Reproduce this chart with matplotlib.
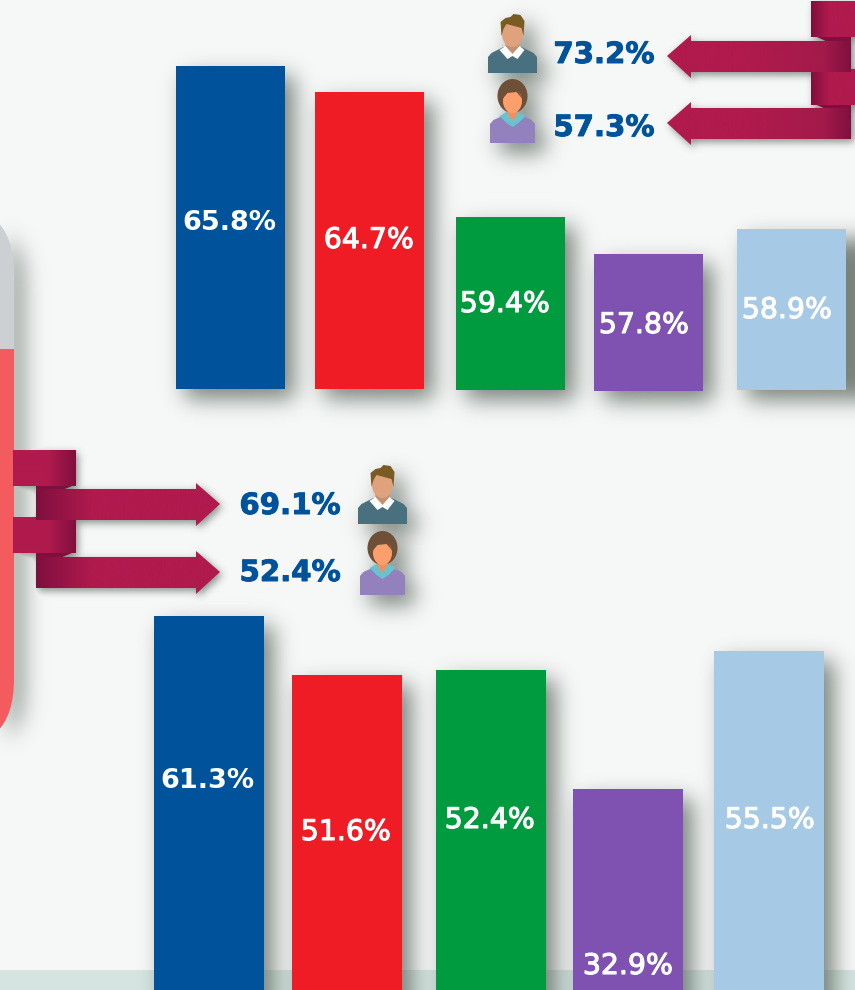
import numpy as np
import matplotlib
matplotlib.use("Agg")
import matplotlib.pyplot as plt
import matplotlib.patheffects as pe
from matplotlib.colors import LinearSegmentedColormap
from matplotlib.patches import Ellipse, FancyBboxPatch, Polygon, Rectangle

# valores
top_values = [65.8, 64.7, 59.4, 57.8, 58.9]
bottom_values = [61.3, 51.6, 52.4, 32.9, 55.5]
top_men = 73.2
top_women = 57.3
bottom_men = 69.1
bottom_women = 52.4
bar_colors = ["#00539b", "#ef1c25", "#009b3e", "#7f51b0", "#a6c9e6"]

# posicion de barras y etiquetas (pixeles de la imagen)
top_centers = [230.5, 369.5, 510.5, 648.5, 791.5]
top_widths = [109, 109, 109, 109, 109]
top_floors = [389, 389, 390, 391, 390]
top_labels = [(229, 223), (369, 240), (505, 304), (644, 325), (787, 310)]
bottom_centers = [209, 347, 491, 628, 769]
bottom_labels = [(207, 781), (346, 832), (490, 820), (628, 966), (770, 820)]
bar_width_bottom = 110

W, H = 855, 990
BG = "#f6f8f7"
BAND = "#d5e4e0"
DARK = "#7f0f3e"
WINE = "#b01a4d"
BLUE = "#00539b"


def top_scale(px):
    return 52.1 + (389 - px) / 23.6


def bottom_scale(px):
    return 61.3 + (616 - px) / 6.09


def new_axes(fig, zorder):
    ax = fig.add_axes([0, 0, 1, 1], zorder=zorder)
    ax.patch.set_alpha(0)
    ax.set_axis_off()
    return ax


def gradient(ax, verts, stops, x0, x1, flat, zorder):
    # poligono con degradado horizontal, recortado con imshow
    poly = Polygon(verts, closed=True, facecolor="black" if flat else "none",
                   edgecolor="none", zorder=zorder)
    ax.add_patch(poly)
    if flat:
        return
    cmap = LinearSegmentedColormap.from_list("g", stops)
    im = ax.imshow(np.linspace(0, 1, 256).reshape(1, -1), cmap=cmap, aspect="auto",
                   extent=(x0, x1, H, 0), zorder=zorder)
    im.set_clip_path(poly)


def left_arrow(ax, cy, tab_top, flat):
    gradient(ax, [(811, tab_top), (856, tab_top), (856, tab_top + 36), (811, tab_top + 36)],
             [(0, DARK), (0.4, WINE), (1, WINE)], 811, 856, flat, 3)
    ax.add_patch(Polygon([(817, tab_top + 36), (851, tab_top + 36), (851, tab_top + 42), (830, tab_top + 42)],
                         facecolor="black" if flat else DARK, edgecolor="none", zorder=3))
    verts = [(667, cy), (691, cy - 21), (691, cy - 15), (851, cy - 15),
             (851, cy + 16), (691, cy + 16), (691, cy + 22)]
    gradient(ax, verts, [(0, WINE), (0.45, WINE), (0.85, "#a31a4a"), (1, DARK)], 667, 851, flat, 4)


def right_arrow(ax, cy, tab_top, flat):
    gradient(ax, [(13, tab_top), (76, tab_top), (76, tab_top + 36), (13, tab_top + 36)],
             [(0, WINE), (0.55, WINE), (1, DARK)], 13, 76, flat, 3)
    ax.add_patch(Polygon([(36, tab_top + 36), (72, tab_top + 36), (60, tab_top + 41), (36, tab_top + 41)],
                         facecolor="black" if flat else DARK, edgecolor="none", zorder=3))
    verts = [(36, cy - 15), (196, cy - 15), (196, cy - 21), (220, cy),
             (196, cy + 22), (196, cy + 16), (36, cy + 16)]
    gradient(ax, verts, [(0, DARK), (0.3, WINE), (1, WINE)], 36, 220, flat, 4)


def man(ax, cx, base, flat):
    def c(col):
        return "black" if flat else col
    def pts(lst):
        return [(cx + a, base + b) for a, b in lst]
    ax.add_patch(Polygon(pts([(-24.5, 0), (-24.5, -16), (-21, -20), (-9, -26), (9, -26),
                              (21, -20), (24.5, -16), (24.5, 0)]),
                         facecolor=c("#48707f"), edgecolor="none", zorder=5))
    ax.add_patch(Polygon(pts([(-7, -34), (7, -34), (7, -27), (0, -17), (-7, -27)]),
                         facecolor=c("#c4906f"), edgecolor="none", zorder=6))
    ax.add_patch(Polygon(pts([(-7, -27), (0, -19), (7, -27), (12, -23), (5, -14), (0, -17), (-5, -14), (-13, -23)]),
                         facecolor=c("#ffffff"), edgecolor="none", zorder=6))
    ax.add_patch(Ellipse((cx, base - 39), 21, 26, facecolor=c("#e0a27c"), edgecolor="none", zorder=7))
    ax.add_patch(Polygon(pts([(-11, -37), (-12, -51), (-7, -55), (-2, -56), (1, -59), (8, -58),
                              (12, -52), (11, -37), (9, -45), (-6, -49), (-9, -44)]),
                         facecolor=c("#7a5c22"), edgecolor="none", zorder=8))


def woman(ax, cx, base, flat):
    def c(col):
        return "black" if flat else col
    def pts(lst):
        return [(cx + a, base + b) for a, b in lst]
    ax.add_patch(Polygon(pts([(-22.5, 0), (-22.5, -19), (-19, -23), (-8, -28), (8, -28),
                              (19, -23), (22.5, -19), (22.5, 0)]),
                         facecolor=c("#9281bd"), edgecolor="none", zorder=5))
    ax.add_patch(Ellipse((cx, base - 47), 30, 34, facecolor=c("#6e5038"), edgecolor="none", zorder=6))
    ax.add_patch(Polygon(pts([(-13, -27), (-6, -31), (6, -31), (13, -27), (6, -20), (0, -16), (-6, -20)]),
                         facecolor=c("#69c3cf"), edgecolor="none", zorder=7))
    ax.add_patch(Polygon(pts([(-5, -36), (5, -36), (5, -29), (0, -22), (-5, -29)]),
                         facecolor=c("#f08f5f"), edgecolor="none", zorder=8))
    ax.add_patch(Ellipse((cx, base - 42), 19, 24, facecolor=c("#fd9f6c"), edgecolor="none", zorder=9))
    ax.add_patch(Polygon(pts([(-10, -44), (-8, -57), (4, -56), (10, -44), (4, -51), (-5, -50)]),
                         facecolor=c("#6e5038"), edgecolor="none", zorder=10))


def draw_scene(fig, flat=None, shadow=None):
    back = new_axes(fig, 0)
    back.set_xlim(0, W)
    back.set_ylim(H, 0)
    if not flat:
        back.add_patch(Rectangle((0, 0), W, H, facecolor=BG, edgecolor="none", zorder=0))
        back.add_patch(Rectangle((0, 970), W, 20, facecolor=BAND, edgecolor="none", zorder=0))
        back.imshow(shadow, extent=(0, W, H, 0), aspect="auto", zorder=1, interpolation="bilinear")
        back.set_xlim(0, W)
        back.set_ylim(H, 0)

    front = new_axes(fig, 2)
    front.set_xlim(0, W)
    front.set_ylim(H, 0)

    if flat != "arrows":
        # pastilla de la izquierda
        pill = FancyBboxPatch((-150, 203), 164, 547, boxstyle="round,pad=0,rounding_size=70",
                              facecolor="black" if flat else "none", edgecolor="none", zorder=2)
        back.add_patch(pill)
        if not flat:
            for y0, y1, col in [(200, 349, "#cdd0d2"), (349, 760, "#f45b5e")]:
                part = Rectangle((-150, y0), 170, y1 - y0, facecolor=col, edgecolor="none", zorder=2)
                back.add_patch(part)
                part.set_clip_path(pill)

        # barras
        ax_top = new_axes(fig, 1)
        ax_top.set_xlim(0, W)
        ax_top.set_ylim(top_scale(H), top_scale(0))
        floors = [top_scale(p) for p in top_floors]
        heights = [v - f for v, f in zip(top_values, floors)]
        ax_top.bar(top_centers, heights, width=top_widths, bottom=floors,
                   color="black" if flat else bar_colors, linewidth=0)

        ax_bot = new_axes(fig, 1)
        ax_bot.set_xlim(0, W)
        ax_bot.set_ylim(bottom_scale(H), bottom_scale(0))
        floor = bottom_scale(H + 30)
        ax_bot.bar(bottom_centers, [v - floor for v in bottom_values], width=bar_width_bottom,
                   bottom=floor, color="black" if flat else bar_colors, linewidth=0)

        man(front, 512.5, 73, flat)
        woman(front, 512.5, 143, flat)
        man(front, 382.5, 524, flat)
        woman(front, 382.5, 595, flat)

    if flat != "bars":
        left_arrow(front, 56, 1, flat)
        left_arrow(front, 123, 69, flat)
        right_arrow(front, 504, 450, flat)
        right_arrow(front, 572, 517, flat)
    front.set_xlim(0, W)
    front.set_ylim(H, 0)
    if flat:
        return

    # textos
    stroke = [pe.withStroke(linewidth=0.8, foreground="white")]
    for vals, labels in [(top_values, top_labels), (bottom_values, bottom_labels)]:
        for i, (v, (x, y)) in enumerate(zip(vals, labels)):
            if i == 0:
                front.text(x, y, f"{v}%", color="white", fontsize=19.5, fontweight="bold",
                           ha="center", va="center", zorder=12)
            else:
                front.text(x, y, f"{v}%", color="white", fontsize=20.4,
                           ha="center", va="center", zorder=12, path_effects=stroke)
    heavy = [pe.withStroke(linewidth=0.7, foreground=BLUE)]
    for v, x, y in [(top_men, 604, 55), (top_women, 604, 128), (bottom_men, 290, 506), (bottom_women, 290, 573)]:
        front.text(x, y, f"{v}%", color=BLUE, fontsize=21, fontweight="bold",
                   ha="center", va="center", zorder=12, path_effects=heavy)


def blur(mask, sigma):
    n = int(sigma * 3)
    k = np.exp(-0.5 * (np.arange(-n, n + 1) / sigma) ** 2)
    k = k / k.sum()
    pad = np.pad(mask, n, mode="edge")
    pad = np.apply_along_axis(lambda r: np.convolve(r, k, mode="same"), 0, pad)
    pad = np.apply_along_axis(lambda r: np.convolve(r, k, mode="same"), 1, pad)
    return pad[n:-n, n:-n]


def silhouette(kind, dx, dy):
    # la escena en negro, desplazada, para sacar la sombra
    tmp = plt.figure(figsize=(W / 100, H / 100), dpi=100, facecolor="white")
    draw_scene(tmp, flat=kind)
    tmp.canvas.draw()
    mask = 1 - np.asarray(tmp.canvas.buffer_rgba())[:, :, 0] / 255.0
    plt.close(tmp)
    out = np.zeros_like(mask)
    out[dy:, dx:] = mask[:H - dy, :W - dx]
    return out


soft = np.maximum(blur(silhouette("bars", 9, 10), 11) * 1.0,
                  blur(silhouette("arrows", 2, 3), 4) * 0.9)
shadow = np.zeros((H, W, 4))
shadow[:, :, :3] = (0.36, 0.40, 0.37)
shadow[:, :, 3] = np.clip(soft * 0.8, 0, 1)

fig = plt.figure(figsize=(W / 100, H / 100), dpi=100, facecolor=BG)
draw_scene(fig, shadow=shadow)
fig.savefig("out.png", dpi=100, facecolor=BG)
